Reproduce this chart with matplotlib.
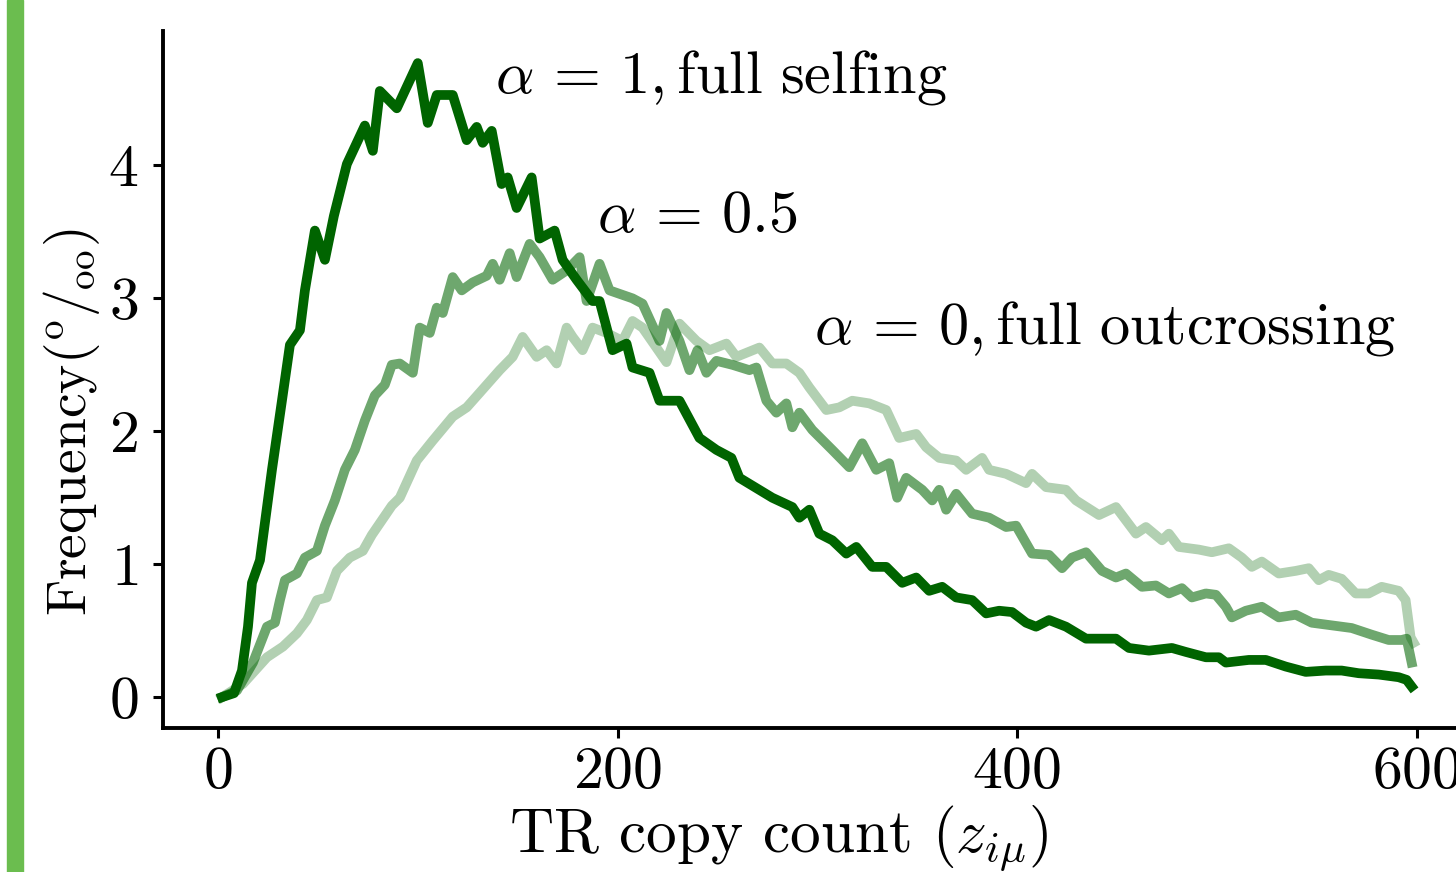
import matplotlib
matplotlib.use("Agg")
import matplotlib.pyplot as plt
from matplotlib.patches import Rectangle

plt.rcParams['font.family'] = 'serif'
plt.rcParams['font.serif'] = ['cmr10']
plt.rcParams['mathtext.fontset'] = 'cm'
plt.rcParams['axes.formatter.use_mathtext'] = True

# alpha = 1, full selfing
selfing_x = [2, 8, 12, 15, 17, 21, 27, 32, 36, 41, 43.5, 48.5, 53.5, 58, 64.5, 73.5, 77.5, 81,
             89.5, 100, 105, 109.5, 117.5, 124.5, 129.5, 132.5, 137, 142, 145, 149.5, 157, 161,
             168.5, 172.5, 179.5, 187.5, 191, 197.5, 204.5, 207.5, 216, 221, 231, 241, 249.5,
             257, 261, 277.5, 287.5, 291, 296, 301, 307.5, 314.5, 319.5, 327.5, 334.5, 342.5,
             349.5, 356, 362.5, 369.5, 377.5, 384.5, 391, 397.5, 404.5, 409.5, 416, 424.5, 434.5,
             441, 449.5, 456, 466, 477.5, 484.5, 494.5, 501, 504.5, 516, 524.5, 534.5, 544.5,
             554.5, 562.5, 571, 581, 591, 595, 597.5]
selfing_y = [0.00, 0.03, 0.20, 0.53, 0.86, 1.03, 1.71, 2.23, 2.65, 2.76, 3.06, 3.51, 3.29, 3.62,
             4.01, 4.30, 4.11, 4.56, 4.43, 4.77, 4.32, 4.53, 4.53, 4.19, 4.29, 4.17, 4.26, 3.86,
             3.91, 3.68, 3.91, 3.45, 3.51, 3.29, 3.14, 2.98, 2.98, 2.61, 2.66, 2.48, 2.44, 2.23,
             2.23, 1.95, 1.86, 1.80, 1.65, 1.50, 1.43, 1.35, 1.41, 1.23, 1.18, 1.08, 1.13, 0.98,
             0.98, 0.86, 0.90, 0.80, 0.83, 0.75, 0.73, 0.63, 0.65, 0.64, 0.56, 0.53, 0.58, 0.53,
             0.44, 0.44, 0.44, 0.37, 0.35, 0.37, 0.34, 0.30, 0.30, 0.26, 0.28, 0.28, 0.23, 0.19,
             0.20, 0.20, 0.18, 0.17, 0.15, 0.13, 0.08]

# alpha = 0.5
half_x = [2, 9.5, 17.5, 24.5, 28.5, 31, 33.5, 39.5, 43.5, 49.5, 53.5, 58.5, 63.5, 68.5, 73.5,
          78.5, 83.5, 87, 91, 97.5, 101, 106, 109.5, 112.5, 117.5, 122, 127.5, 134.5, 137.5,
          141, 146, 149.5, 156, 161, 167.5, 174.5, 181, 184.5, 191, 196, 207.5, 212.5, 221,
          224.5, 231, 236, 240, 244.5, 249.5, 257.5, 266, 269.5, 274.5, 279.5, 284.5, 287.5,
          291, 297.5, 307.5, 316, 322.5, 329.5, 336, 340, 344.5, 352.5, 357.5, 361, 364.5,
          369.5, 377.5, 386, 394.5, 399.5, 407.5, 416, 422.5, 427.5, 434.5, 442.5, 449.5,
          454.5, 462.5, 469.5, 476, 482.5, 487.5, 494.5, 499.5, 504.5, 507.5, 514.5, 522.5,
          531, 539.5, 547.5, 557.5, 567.5, 577.5, 586, 592.5, 595, 597.5]
half_y = [0.00, 0.05, 0.26, 0.53, 0.56, 0.73, 0.88, 0.93, 1.05, 1.10, 1.29, 1.48, 1.71, 1.86,
          2.08, 2.27, 2.35, 2.50, 2.51, 2.44, 2.78, 2.74, 2.93, 2.89, 3.16, 3.06, 3.12, 3.17,
          3.26, 3.14, 3.34, 3.16, 3.41, 3.31, 3.14, 3.21, 3.31, 2.98, 3.26, 3.06, 3.00, 2.96,
          2.68, 2.89, 2.68, 2.46, 2.61, 2.44, 2.53, 2.50, 2.46, 2.48, 2.23, 2.14, 2.21, 2.03,
          2.14, 2.01, 1.86, 1.73, 1.91, 1.71, 1.76, 1.50, 1.65, 1.56, 1.48, 1.56, 1.41, 1.53,
          1.38, 1.35, 1.28, 1.29, 1.08, 1.07, 0.97, 1.05, 1.09, 0.95, 0.90, 0.93, 0.83, 0.84,
          0.78, 0.82, 0.75, 0.78, 0.77, 0.68, 0.60, 0.65, 0.68, 0.60, 0.62, 0.56, 0.54, 0.52,
          0.47, 0.43, 0.43, 0.44, 0.26]

# alpha = 0, full outcrossing
outcross_x = [2, 12.5, 24.5, 32.5, 39.5, 44.5, 49.5, 54.5, 59.5, 66, 72.5, 77, 82, 87, 91, 99.5,
              107.5, 117.5, 124.5, 131, 141, 147.5, 152.5, 159.5, 164.5, 169.5, 174.5, 177.5,
              182.5, 187.5, 194.5, 202.5, 207.5, 212.5, 224.5, 231, 239.5, 246, 254.5, 259.5,
              271, 277.5, 284.5, 291, 296, 304.5, 311, 317.5, 326, 334.5, 341, 349.5, 354.5,
              361, 369.5, 374.5, 382.5, 386, 394.5, 404.5, 407.5, 414.5, 424.5, 429.5, 441,
              449.5, 454.5, 459.5, 464.5, 472.5, 476, 481, 491, 497.5, 506, 512.5, 517.5, 522.5,
              531, 539.5, 546, 551, 556, 562.5, 569.5, 576, 582.5, 591, 594.5, 597, 598.5]
outcross_y = [0.00, 0.10, 0.30, 0.38, 0.48, 0.58, 0.73, 0.75, 0.95, 1.05, 1.10, 1.22, 1.33, 1.44,
              1.50, 1.78, 1.93, 2.11, 2.18, 2.29, 2.46, 2.56, 2.71, 2.56, 2.61, 2.51, 2.78, 2.71,
              2.61, 2.78, 2.74, 2.68, 2.83, 2.78, 2.52, 2.81, 2.68, 2.61, 2.66, 2.56, 2.63, 2.51,
              2.51, 2.44, 2.33, 2.16, 2.18, 2.23, 2.21, 2.16, 1.95, 1.98, 1.88, 1.80, 1.78, 1.71,
              1.80, 1.71, 1.68, 1.61, 1.68, 1.58, 1.56, 1.48, 1.37, 1.43, 1.33, 1.23, 1.28, 1.18,
              1.23, 1.13, 1.11, 1.09, 1.12, 1.05, 0.98, 1.02, 0.93, 0.95, 0.97, 0.88, 0.92, 0.89,
              0.78, 0.78, 0.83, 0.80, 0.73, 0.45, 0.41]

x_ticks = [0, 200, 400, 600]
y_ticks = [0, 1, 2, 3, 4]

fig = plt.figure(figsize=(14.56, 8.72), dpi=100)

# green slide bar on the left edge
fig.patches.append(Rectangle((0.005, 0), 0.011, 1, transform=fig.transFigure,
                             color='#6bbd4f', zorder=0))

ax = fig.add_axes([0.112, 0.165, 0.898, 0.8])

ax.plot(outcross_x, outcross_y, color='darkgreen', alpha=0.3, lw=7, solid_joinstyle='round')
ax.plot(half_x, half_y, color='darkgreen', alpha=0.57, lw=7, solid_joinstyle='round')
ax.plot(selfing_x, selfing_y, color='darkgreen', lw=7, solid_joinstyle='round')

ax.text(138.5, 4.55, r'$\alpha\,=\,1, \mathrm{full\ selfing}$', fontsize=43.5, va='baseline')
ax.text(189.5, 3.5, r'$\alpha\,=\,0.5$', fontsize=43.5, va='baseline')
ax.text(298.5, 2.66, r'$\alpha\,=\,0, \mathrm{full\ outcrossing}$', fontsize=43.5, va='baseline')

ax.set_xlim(-27.5, 627)
ax.set_ylim(-0.233, 5.015)
ax.set_xticks(x_ticks)
ax.set_yticks(y_ticks)
ax.tick_params(labelsize=43, width=2.2, length=7)
ax.tick_params(axis='x', pad=6)
ax.tick_params(axis='y', pad=11)

for side in ['top', 'right']:
    ax.spines[side].set_visible(False)
for side in ['left', 'bottom']:
    ax.spines[side].set_linewidth(2.8)

ax.set_xlabel(r'TR copy count $(z_{i\mu})$', fontsize=44)
ax.xaxis.set_label_coords(0.471, -0.108)
ax.set_ylabel(r'Frequency$(^{\mathrm{o}}/_{\mathrm{oo}})$', fontsize=40)
ax.yaxis.set_label_coords(-0.047, 0.438)

fig.savefig('out.png', dpi=100)
